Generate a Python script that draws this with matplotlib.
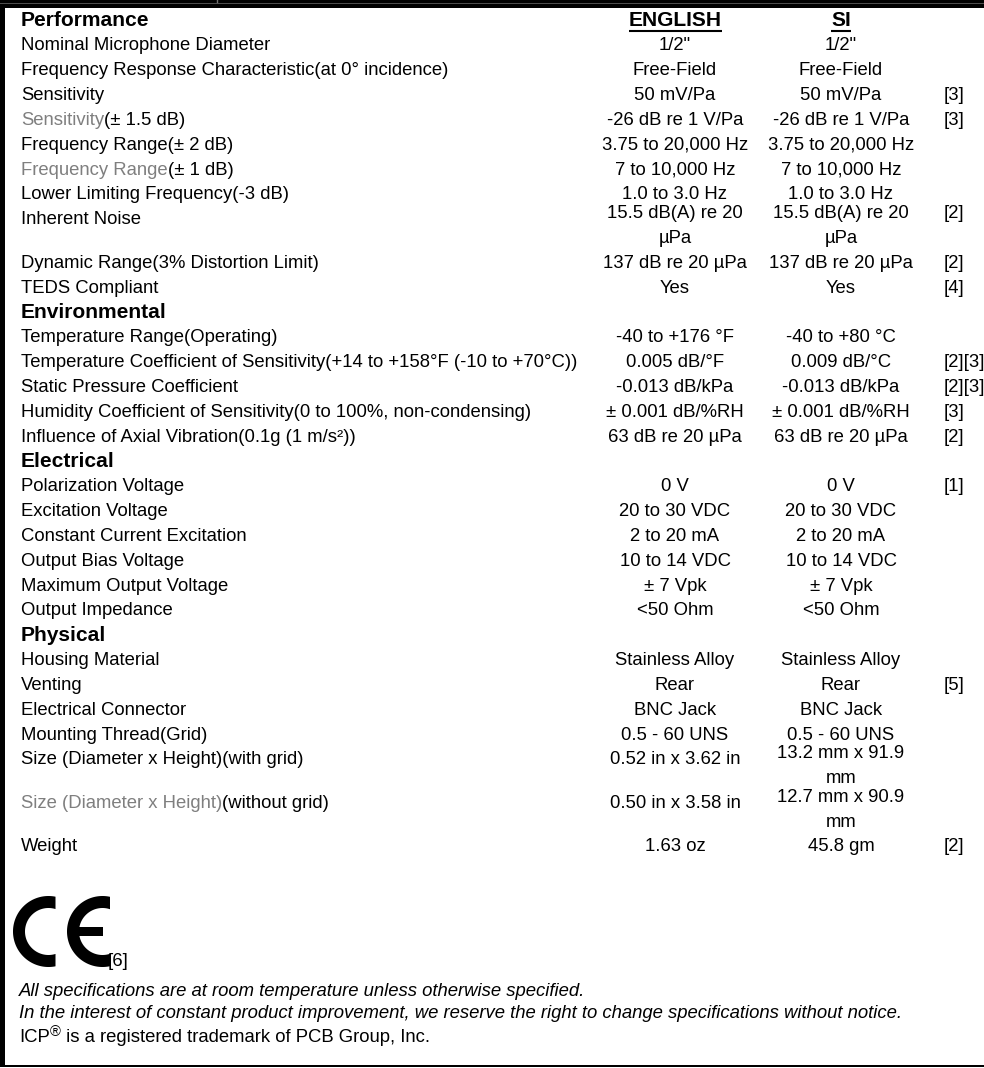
import numpy as np
import matplotlib
matplotlib.use("Agg")
import matplotlib.pyplot as plt
from matplotlib.patches import Polygon, Rectangle

plt.rcParams['font.family'] = ['Liberation Sans', 'DejaVu Sans']

# ---- spec sheet data ----
section_names = ["Performance", "Environmental", "Electrical", "Physical"]

perf_labels = ["Nominal Microphone Diameter",
               "Frequency Response Characteristic(at 0° incidence)",
               "Sensitivity",
               "Sensitivity(± 1.5 dB)",
               "Frequency Range(± 2 dB)",
               "Frequency Range(± 1 dB)",
               "Lower Limiting Frequency(-3 dB)",
               "Inherent Noise",
               "Dynamic Range(3% Distortion Limit)",
               "TEDS Compliant"]
perf_english = ['1/2"', "Free-Field", "50 mV/Pa", "-26 dB re 1 V/Pa", "3.75 to 20,000 Hz",
                "7 to 10,000 Hz", "1.0 to 3.0 Hz", "15.5 dB(A) re 20\nµPa", "137 dB re 20 µPa", "Yes"]
perf_si = ['1/2"', "Free-Field", "50 mV/Pa", "-26 dB re 1 V/Pa", "3.75 to 20,000 Hz",
           "7 to 10,000 Hz", "1.0 to 3.0 Hz", "15.5 dB(A) re 20\nµPa", "137 dB re 20 µPa", "Yes"]
perf_notes = ["", "", "[3]", "[3]", "", "", "", "[2]", "[2]", "[4]"]

env_labels = ["Temperature Range(Operating)",
              "Temperature Coefficient of Sensitivity(+14 to +158°F (-10 to +70°C))",
              "Static Pressure Coefficient",
              "Humidity Coefficient of Sensitivity(0 to 100%, non-condensing)",
              "Influence of Axial Vibration(0.1g (1 m/s²))"]
env_english = ["-40 to +176 °F", "0.005 dB/°F", "-0.013 dB/kPa", "± 0.001 dB/%RH", "63 dB re 20 µPa"]
env_si = ["-40 to +80 °C", "0.009 dB/°C", "-0.013 dB/kPa", "± 0.001 dB/%RH", "63 dB re 20 µPa"]
env_notes = ["", "[2][3]", "[2][3]", "[3]", "[2]"]

elec_labels = ["Polarization Voltage", "Excitation Voltage", "Constant Current Excitation",
               "Output Bias Voltage", "Maximum Output Voltage", "Output Impedance"]
elec_english = ["0 V", "20 to 30 VDC", "2 to 20 mA", "10 to 14 VDC", "± 7 Vpk", "<50 Ohm"]
elec_si = ["0 V", "20 to 30 VDC", "2 to 20 mA", "10 to 14 VDC", "± 7 Vpk", "<50 Ohm"]
elec_notes = ["[1]", "", "", "", "", ""]

phys_labels = ["Housing Material", "Venting", "Electrical Connector", "Mounting Thread(Grid)",
               "Size (Diameter x Height)(with grid)", "Size (Diameter x Height)(without grid)", "Weight"]
phys_english = ["Stainless Alloy", "Rear", "BNC Jack", "0.5 - 60 UNS", "0.52 in x 3.62 in",
                "0.50 in x 3.58 in", "1.63 oz"]
phys_si = ["Stainless Alloy", "Rear", "BNC Jack", "0.5 - 60 UNS", "13.2 mm x 91.9\nmm",
           "12.7 mm x 90.9\nmm", "45.8 gm"]
phys_notes = ["", "[5]", "", "", "", "", "[2]"]

# label parts drawn in grey
muted_prefix = {"Sensitivity(± 1.5 dB)": "Sensitivity",
                "Frequency Range(± 1 dB)": "Frequency Range",
                "Size (Diameter x Height)(without grid)": "Size (Diameter x Height)"}

footer_notes = ["All specifications are at room temperature unless otherwise specified.",
                "In the interest of constant product improvement, we reserve the right to change specifications without notice."]
ce_note = "[6]"

sections = [(perf_labels, perf_english, perf_si, perf_notes),
            (env_labels, env_english, env_si, env_notes),
            (elec_labels, elec_english, elec_si, elec_notes),
            (phys_labels, phys_english, phys_si, phys_notes)]

# ---- layout ----
W, H = 984, 1068
fig = plt.figure(figsize=(W / 100, H / 100), dpi=100)
ax = fig.add_axes([0, 0, 1, 1])
ax.set_xlim(0, W)
ax.set_ylim(H, 0)
ax.axis('off')

FS = 13.3      # body font size
HFS = 15.1     # header font size
S = 24.84      # row pitch
X_LAB, X_EN, X_SI, X_NOTE = 21, 675, 841, 944
GREY = '#7f7f7f'

# frame
ax.add_patch(Rectangle((0, 0), W, 8, color='black', lw=0))
ax.plot([0, W], [2.6, 2.6], color='#505050', lw=0.7)
ax.plot([217, 217], [0, 2.4], color='#707070', lw=1.0)
ax.add_patch(Rectangle((0, 0), 5, 1066, color='black', lw=0))
ax.add_patch(Rectangle((0, 1064.5), W, 2.5, color='black', lw=0))

y = 21
hdr = []
for si_idx, (labels, english, si, notes) in enumerate(sections):
    if si_idx > 0:
        y += S
    ax.text(X_LAB, y, section_names[si_idx], fontsize=HFS, fontweight='bold', va='center')
    if si_idx == 0:
        for xc, name in [(X_EN, "ENGLISH"), (X_SI, "SI")]:
            hdr.append(ax.text(xc, y, name, fontsize=HFS, fontweight='bold', va='center', ha='center'))
    for lab, en, s, nt in zip(labels, english, si, notes):
        y += S
        tall = ("\n" in en) or ("\n" in s)
        if lab in muted_prefix:
            pre = muted_prefix[lab]
            t = ax.text(X_LAB, y, pre, fontsize=FS, color=GREY, va='center')
            ax.annotate(lab[len(pre):], xy=(1, 0), xycoords=t, fontsize=FS, va='bottom', ha='left')
        else:
            ax.text(X_LAB, y, lab, fontsize=FS, va='center')
        for xc, val in [(X_EN, en), (X_SI, s)]:
            parts = val.split("\n")
            if len(parts) == 1:
                ax.text(xc, y, val, fontsize=FS, va='center', ha='center')
            else:
                for k, p in enumerate(parts):
                    ax.text(xc, y - 0.25 * S + k * S, p, fontsize=FS, va='center', ha='center')
        if nt:
            ax.text(X_NOTE, y - (0.25 * S if tall else 0), nt, fontsize=FS, va='center', ha='left')
        if tall:
            y += 0.75 * S

# underline the unit system headings
fig.canvas.draw()
inv = ax.transData.inverted()
for t in hdr:
    bb = t.get_window_extent()
    (x0, _), (x1, _) = inv.transform([[bb.x0, bb.y0], [bb.x1, bb.y0]])
    ax.plot([x0, x1], [hdr[0].get_position()[1] + 9.5] * 2, color='black', lw=1.5,
            solid_capstyle='butt')


# CE mark
def ce_letter(cx, cy, R, thick, d, bar=False):
    r = R - thick
    ao = np.degrees(np.arccos(d / R))
    ai = np.degrees(np.arccos(d / r))
    a_out = np.radians(np.linspace(ao, 360 - ao, 120))
    a_in = np.radians(np.linspace(360 - ai, ai, 120))
    pts = np.vstack([np.column_stack([cx + R * np.cos(a_out), cy + R * np.sin(a_out)]),
                     np.column_stack([cx + r * np.cos(a_in), cy + r * np.sin(a_in)])])
    ax.add_patch(Polygon(pts, closed=True, color='black', lw=0))
    if bar:
        ax.add_patch(Rectangle((cx - r - 1, cy - 4.3), r + d - 6, 8.6, color='black', lw=0))


ce_letter(48.5, 931.5, 35.5, 12, 7)
ce_letter(102.5, 931.5, 35.5, 12, 7.5, bar=True)
ax.text(108, 966, ce_note, fontsize=FS, va='baseline', ha='left')

for k, line in enumerate(footer_notes):
    ax.text(X_LAB - 2, 992 + k * 21, line, fontsize=FS, style='italic', va='center')

t_icp = ax.text(X_LAB - 2, 1038, "ICP", fontsize=FS, va='center')
t_reg = ax.annotate("®", xy=(1, 0.42), xycoords=t_icp, fontsize=FS * 0.8, va='bottom', ha='left')
ax.annotate(" is a registered trademark of PCB Group, Inc.", xy=(1, 0), xycoords=(t_reg, t_icp),
            fontsize=FS, va='bottom', ha='left')

plt.savefig('out.png', dpi=100)
